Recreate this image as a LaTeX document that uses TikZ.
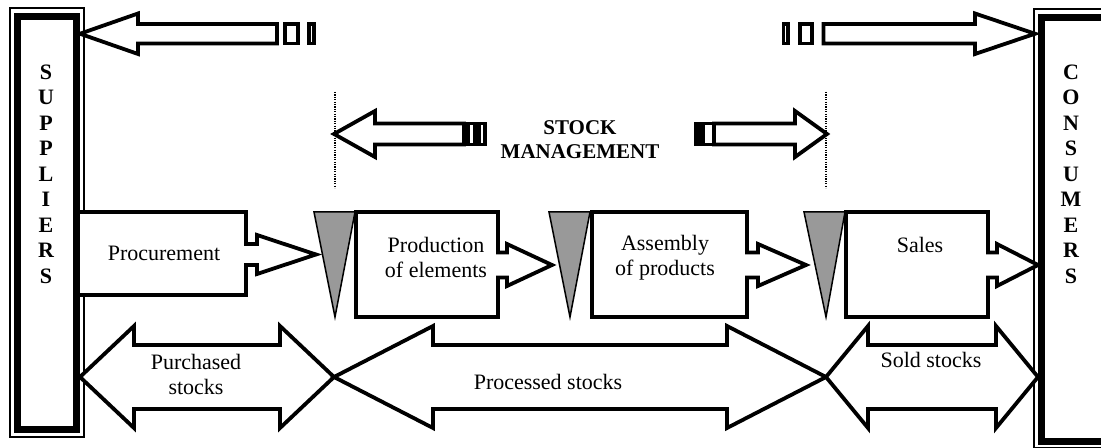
\documentclass[tikz,border=0pt]{standalone}
\usepackage{fontspec}
\setmainfont{Liberation Serif}
\usepackage{tikz}

\begin{document}
\begin{tikzpicture}[
    x=0.5pt, y=-0.5pt,
    blk/.style ={draw=black, line width=1.9pt, fill=white, line join=miter},
    tri/.style ={draw=black, line width=0.75pt, fill=black!40, line join=miter},
    heavyframe/.style ={draw=black, line width=3.5pt},
    thinframe/.style ={draw=black, line width=0.6pt},
    guide/.style ={draw=black, line width=0.6pt, dash pattern=on 0.6pt off 0.6pt},
    lbl/.style ={font=\fontsize{11}{12.5}\selectfont, align=center, inner sep=0pt},
    side/.style ={font=\bfseries\fontsize{11}{12.75}\selectfont, align=center, inner sep=0pt},
    title/.style ={font=\bfseries\fontsize{10.5}{12.25}\selectfont, align=center, inner sep=0pt}
]
\clip (0,0) rectangle (1101,448);

%% --- suppliers / consumers ---
\draw[thinframe]  (10,8) rectangle (84,437);
\draw[heavyframe] (17.5,16.5) rectangle (76.5,429.5);
\draw[thinframe]  (1034,9) rectangle (1120,448);
\draw[heavyframe] (1041.5,18) rectangle (1110,441);
\node[side] (sup) at (46,174)   {S\\U\\P\\P\\L\\I\\E\\R\\S};
\node[side] (con) at (1071,174) {C\\O\\N\\S\\U\\M\\E\\R\\S};

%% --- top arrows ---
\draw[blk] (80,33.75) -- (138,13.5) -- (138,24) -- (277,24) -- (277,43.5)
           -- (138,43.5) -- (138,54) -- cycle;
\draw[blk] (285,24) rectangle (298,43.5);
\draw[blk] (309,24) rectangle (314,43.5);

\draw[blk] (1035,33.75) -- (975,13.5) -- (975,24) -- (823.5,24) -- (823.5,43.5)
           -- (975,43.5) -- (975,54) -- cycle;
\draw[blk] (800,24) rectangle (812,43.5);
\draw[blk] (783.5,24) rectangle (788,43.5);

%% --- stock management ---
\draw[guide] (335,92) -- (335,188);
\draw[guide] (826,92) -- (826,188);
\draw[blk] (334,134) -- (375,111) -- (375,123.5) -- (464,123.5) -- (464,144.5)
           -- (375,144.5) -- (375,157) -- cycle;
\draw[blk] (468,123.5) rectangle (475,144.5);
\draw[blk] (479,123.5) rectangle (485,144.5);

\draw[blk] (696,123.5) rectangle (714,144.5);
\fill (696,123.5) rectangle (705,144.5);
\draw[blk] (827,134) -- (795,111) -- (795,123.5) -- (714,123.5) -- (714,144.5)
           -- (795,144.5) -- (795,157) -- cycle;
\node[title] (sm) at (580,139.5) {STOCK\\MANAGEMENT};

%% --- stock points ---
\draw[tri] (314,212) -- (355,212) -- (335,317) -- cycle;
\draw[tri] (549,212) -- (590,212) -- (570,317) -- cycle;
\draw[tri] (804,212) -- (845,212) -- (826,317) -- cycle;

%% --- process blocks ---
\draw[blk] (78,212) -- (246,212) -- (246,244) -- (257,244) -- (257,235)
           -- (316,254.5) -- (257,274) -- (257,265) -- (246,265) -- (246,295)
           -- (78,295) -- cycle;
\draw[blk] (356,212) -- (498,212) -- (498,252.5) -- (507,252.5) -- (507,244)
           -- (552,265) -- (507,286) -- (507,277.5) -- (498,277.5) -- (498,317)
           -- (356,317) -- cycle;
\draw[blk] (592,212) -- (747,212) -- (747,252.5) -- (758,252.5) -- (758,244)
           -- (806,265) -- (758,286) -- (758,277.5) -- (747,277.5) -- (747,317)
           -- (592,317) -- cycle;
\draw[blk] (846,212) -- (988,212) -- (988,252.5) -- (997,252.5) -- (997,244)
           -- (1038,265) -- (997,286) -- (997,277.5) -- (988,277.5) -- (988,317)
           -- (846,317) -- cycle;
\node[lbl] (proc) at (164,253)   {Procurement};
\node[lbl] (prod) at (436,257.5) {Production\\of elements};
\node[lbl] (asm)  at (665,257.5) {Assembly\\of products};
\node[lbl] (sal)  at (920,245)   {Sales};

%% --- stock types ---
\draw[blk] (80,377) -- (134,326) -- (134,345) -- (280,345) -- (280,326)
           -- (334,377) -- (280,428) -- (280,409) -- (134,409) -- (134,428) -- cycle;
\draw[blk] (334,377) -- (433,326) -- (433,345) -- (727,345) -- (727,326)
           -- (826,377) -- (727,428) -- (727,409) -- (433,409) -- (433,428) -- cycle;
\draw[blk] (826,377) -- (868,326) -- (868,345) -- (996,345) -- (996,326)
           -- (1038,377) -- (996,428) -- (996,409) -- (868,409) -- (868,428) -- cycle;
\node[lbl] (pur) at (196,374.5) {Purchased\\stocks};
\node[lbl] (pst) at (548,382)   {Processed stocks};
\node[lbl] (sld) at (931,360)   {Sold stocks};
\end{tikzpicture}
\end{document}
